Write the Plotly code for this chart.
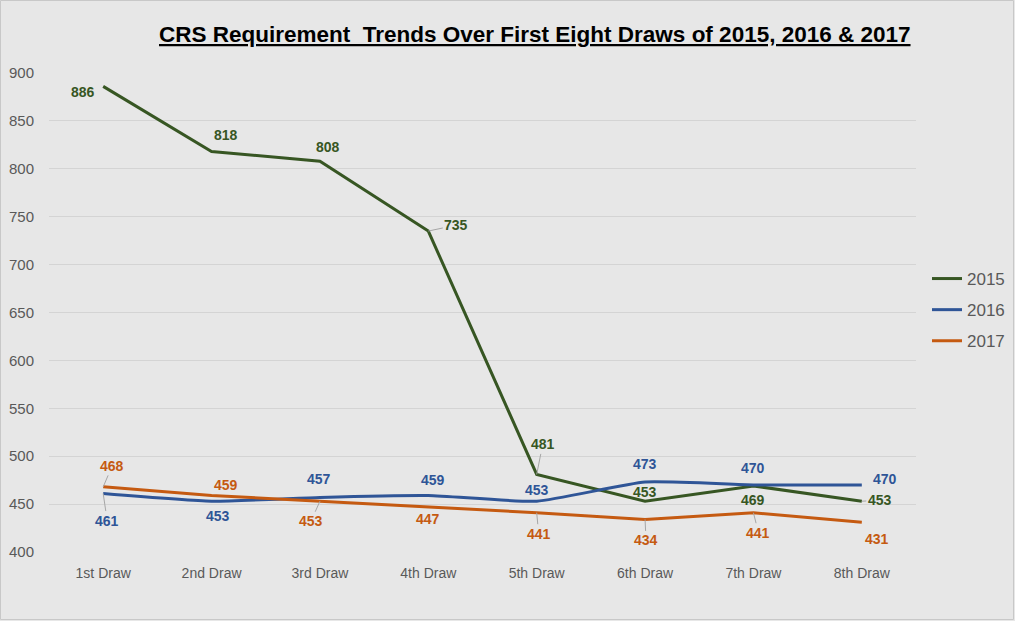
import plotly.graph_objects as go

draws = ["1st Draw", "2nd Draw", "3rd Draw", "4th Draw", "5th Draw", "6th Draw", "7th Draw", "8th Draw"]
y2015 = [886, 818, 808, 735, 481, 453, 469, 453]
y2016 = [461, 453, 457, 459, 453, 473, 470, 470]
y2017 = [468, 459, 453, 447, 441, 434, 441, 431]

c2015 = "#375623"
c2016 = "#2f5597"
c2017 = "#c55a11"

# label offsets (dx, dy in px; dy positive = down) and whether a leader line is drawn
off2015 = [(-20, 6, False), (14, -17, False), (8, -14, False), (28, -6, True),
           (6, -30, True), (0, -9, False), (0, 14, False), (18, -1, True)]
off2016 = [(4, 27, True), (6, 15, False), (-1, -18, False), (5, -15, False),
           (0, -11, False), (0, -18, False), (0, -17, False), (23, -6, False)]
off2017 = [(9, -21, True), (14, -10, False), (-9, 20, True), (0, 12, False),
           (2, 21, True), (1, 21, True), (5, 20, True), (15, 17, False)]

fig = go.Figure()
fig.add_trace(go.Scatter(x=draws, y=y2015, name="2015", mode="lines", legendgroup="a",
                         line=dict(color=c2015, width=3)))
fig.add_trace(go.Scatter(x=draws, y=y2016, name="2016", mode="lines", legendgroup="b",
                         line=dict(color=c2016, width=3, shape="spline", smoothing=0.5)))
fig.add_trace(go.Scatter(x=draws, y=y2017, name="2017", mode="lines", legendgroup="c",
                         line=dict(color=c2017, width=3)))

annotations = []
for vals, offs, col in [(y2015, off2015, c2015), (y2016, off2016, c2016), (y2017, off2017, c2017)]:
    for d, v, (dx, dy, lead) in zip(draws, vals, offs):
        font = dict(family="Liberation Sans, Arial, sans-serif", size=14, color=col)
        if lead:
            annotations.append(dict(x=d, y=v, xref="x", yref="y", text=f"<b>{v}</b>",
                                    showarrow=True, arrowhead=0, arrowwidth=1,
                                    arrowcolor="#a6a6a6", ax=dx, ay=dy, font=font,
                                    standoff=0, startstandoff=0))
        else:
            annotations.append(dict(x=d, y=v, xref="x", yref="y", text=f"<b>{v}</b>",
                                    showarrow=False, xshift=dx, yshift=-dy, font=font))

annotations.append(dict(text="<b><u>CRS Requirement  Trends Over First Eight Draws of 2015, 2016 & 2017</u></b>",
                        xref="paper", yref="paper", x=(535 - 49) / 867, y=1 + (73 - 35) / 479,
                        xanchor="center", yanchor="middle", showarrow=False,
                        font=dict(family="Liberation Sans Narrow, Arial Narrow, Liberation Sans, sans-serif",
                                  size=22.5, color="#000000")))

fig.update_layout(
    width=1015, height=621,
    paper_bgcolor="#e7e7e7", plot_bgcolor="#e7e7e7",
    margin=dict(l=49, r=99, t=73, b=69, autoexpand=False),
    showlegend=True,
    legend=dict(xref="container", yref="container", x=927 / 1015, y=1 - 310 / 621,
                xanchor="left", yanchor="middle",
                font=dict(family="Liberation Sans, Arial, sans-serif", size=17, color="#595959"),
                bgcolor="rgba(0,0,0,0)", tracegroupgap=6, itemwidth=30),
    annotations=annotations,
    xaxis=dict(range=[-0.5, 7.5], showgrid=False, showline=False, zeroline=False,
               tickfont=dict(family="Liberation Sans, Arial, sans-serif", size=14, color="#595959"),
               ticks="outside", ticklen=8, tickcolor="rgba(0,0,0,0)"),
    yaxis=dict(range=[400, 900], tickvals=list(range(400, 901, 50)),
               showgrid=True, gridcolor="#d4d4d4", gridwidth=1, zeroline=False, showline=False,
               tickfont=dict(family="Liberation Sans, Arial, sans-serif", size=15, color="#595959"),
               ticks="outside", ticklen=11, tickcolor="rgba(0,0,0,0)"),
    shapes=[dict(type="rect", xref="paper", yref="paper",
                 x0=-48.5 / 867, x1=(1015 - 49 - 1.5) / 867,
                 y0=-(621 - 552 - 1.5) / 479, y1=1 + (73 - 0.5) / 479,
                 line=dict(color="#c8c8c8", width=1), layer="below")],
)

fig.write_html("out.html", config={"displayModeBar": False},
               post_script="document.body.style.margin='0';document.body.style.overflow='hidden';")
